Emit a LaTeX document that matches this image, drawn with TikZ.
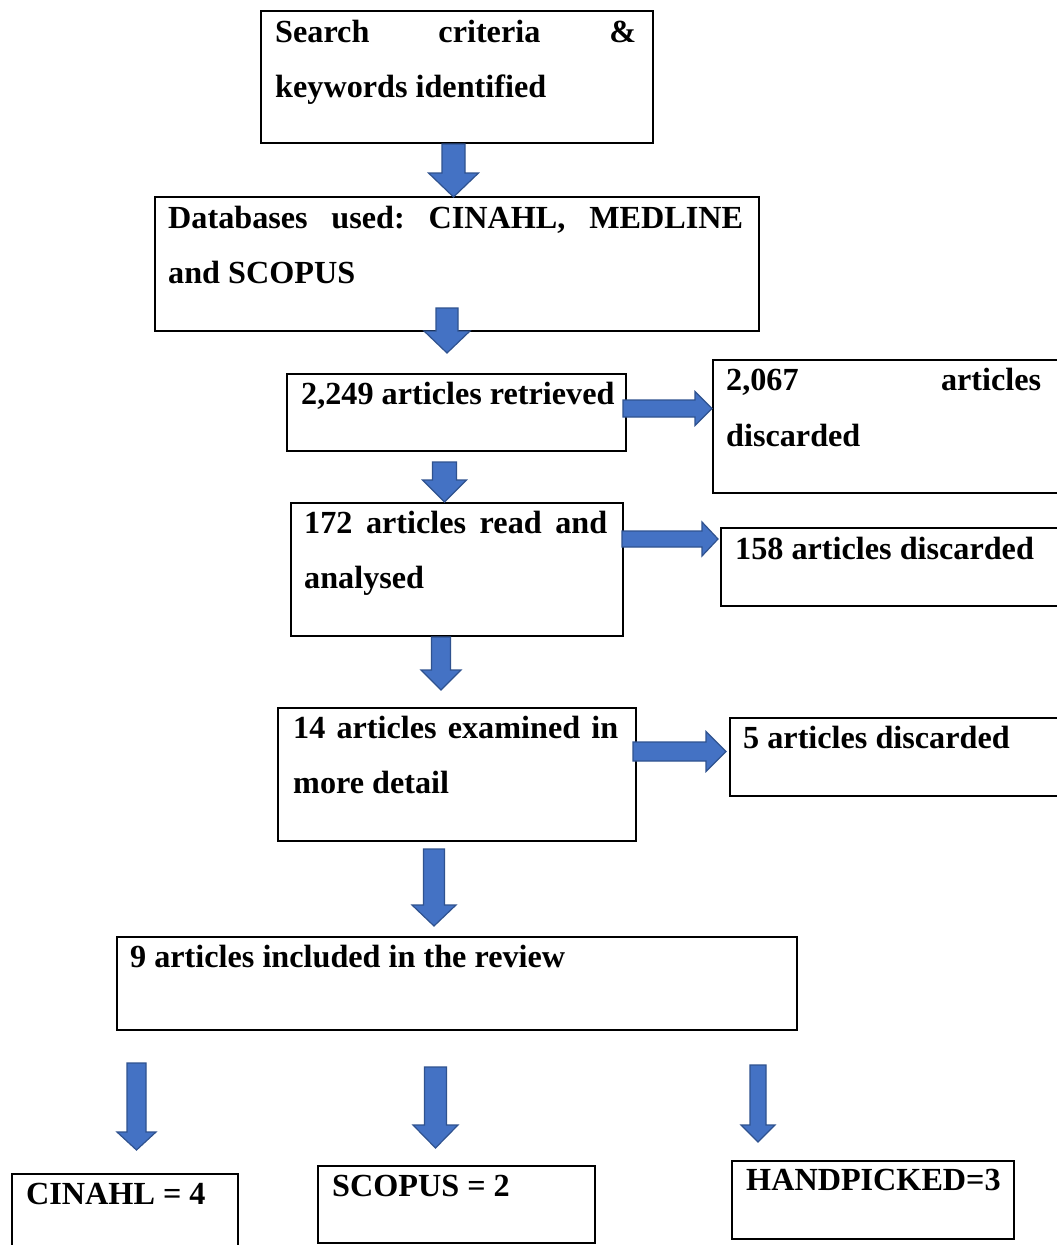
\documentclass[tikz,border=0pt]{standalone}
\usepackage{fontspec}
\setmainfont{Liberation Serif}
\usetikzlibrary{fit,calc}
\definecolor{arrfill}{HTML}{4472C4}
\definecolor{arrline}{HTML}{2F528F}
% down block arrow: cx, ytop, ytip, shaft half width, head half width, head length
\newcommand\blkdown[6]{\draw[blk] ({#1-#4},#2) -- ({#1+#4},#2) -- ({#1+#4},{#3-#6}) -- ({#1+#5},{#3-#6}) -- (#1,#3) -- ({#1-#5},{#3-#6}) -- ({#1-#4},{#3-#6}) -- cycle;}
% right block arrow: cy, xstart, xtip, shaft half width, head half width, head length
\newcommand\blkright[6]{\draw[blk] (#2,{#1-#4}) -- (#2,{#1+#4}) -- ({#3-#6},{#1+#4}) -- ({#3-#6},{#1+#5}) -- (#3,#1) -- ({#3-#6},{#1-#5}) -- ({#3-#6},{#1-#4}) -- cycle;}
\begin{document}
\begin{tikzpicture}[x=1pt,y=-1pt,
  box/.style={draw=black, line width=2pt, inner sep=0pt},
  txt/.style={font=\fontsize{32.2}{38}\selectfont\bfseries, inner sep=0pt, anchor=base west},
  blk/.style={fill=arrfill, draw=arrline, line width=1.2pt, line join=miter}]
\useasboundingbox (0,0) rectangle (1057,1245);
\fill[white] (0,0) rectangle (1057,1245);

% boxes
\node[box, fit={(261,11) (653,143)}] (b1) {};
\node[box, fit={(155,197) (759,331)}] (b2) {};
\node[box, fit={(287,374) (626,451)}] (b3) {};
\node[box, fit={(713,360) (1070,493)}] (b4) {};
\node[box, fit={(291,503) (623,636)}] (b5) {};
\node[box, fit={(721,528) (1070,606)}] (b6) {};
\node[box, fit={(278,708) (636,841)}] (b7) {};
\node[box, fit={(730,718) (1070,796)}] (b8) {};
\node[box, fit={(117,937) (797,1030)}] (b9) {};
\node[box, fit={(12,1174) (238,1265)}] (b10) {};
\node[box, fit={(318,1166) (595,1243)}] (b11) {};
\node[box, fit={(732,1161) (1014,1239)}] (b12) {};

% texts
\node[txt] (t1a) at ($(b1.north west)+(15,32)$) {\hbox to 361pt{Search\hfill criteria\hfill\&}};
\node[txt] (t1b) at ($(b1.north west)+(15,87)$) {keywords identified};
\node[txt] (t2a) at ($(b2.north west)+(14,32)$) {\hbox to 575pt{Databases\hfill used:\hfill CINAHL,\hfill MEDLINE}};
\node[txt] (t2b) at ($(b2.north west)+(14,87)$) {and SCOPUS};
\node[txt] (t3) at ($(b3.north west)+(15,31)$) {2,249 articles retrieved};
\node[txt] (t4a) at ($(b4.north west)+(14,31)$) {\hbox to 315pt{2,067\hfill articles}};
\node[txt] (t4b) at ($(b4.north west)+(14,87)$) {discarded};
\node[txt] (t5a) at ($(b5.north west)+(14,31)$) {\hbox to 303pt{172\hfill articles\hfill read\hfill and}};
\node[txt] (t5b) at ($(b5.north west)+(14,86)$) {analysed};
\node[txt] (t6) at ($(b6.north west)+(15,32)$) {158 articles discarded};
\node[txt] (t7a) at ($(b7.north west)+(16,31)$) {\hbox to 325pt{14\hfill articles\hfill examined\hfill in}};
\node[txt] (t7b) at ($(b7.north west)+(16,86)$) {more detail};
\node[txt] (t8) at ($(b8.north west)+(14,31)$) {5 articles discarded};
\node[txt] (t9) at ($(b9.north west)+(14,31)$) {9 articles included in the review};
\node[txt] (t10) at ($(b10.north west)+(15,31)$) {CINAHL = 4};
\node[txt] (t11) at ($(b11.north west)+(15,31)$) {SCOPUS = 2};
\node[txt] (t12) at ($(b12.north west)+(15,30)$) {HANDPICKED=3};

% block arrows
\blkdown{453.5}{144}{197}{11.5}{25}{24}
\blkdown{447}{308}{353}{11}{23}{22}
\blkdown{444.5}{462}{502}{12}{22}{22}
\blkdown{441}{637}{690}{9.5}{20}{20}
\blkdown{434}{849}{926}{10.5}{22}{21}
\blkdown{136.5}{1063}{1150}{9.5}{19.5}{18}
\blkdown{435.5}{1067}{1148}{11}{22.5}{23}
\blkdown{758}{1065}{1142}{8}{17}{17}
\blkright{408.5}{623}{712}{8.5}{17}{17}
\blkright{539}{622}{718}{8}{17}{16}
\blkright{751.5}{633}{726}{9.5}{20}{20}
\end{tikzpicture}
\end{document}
